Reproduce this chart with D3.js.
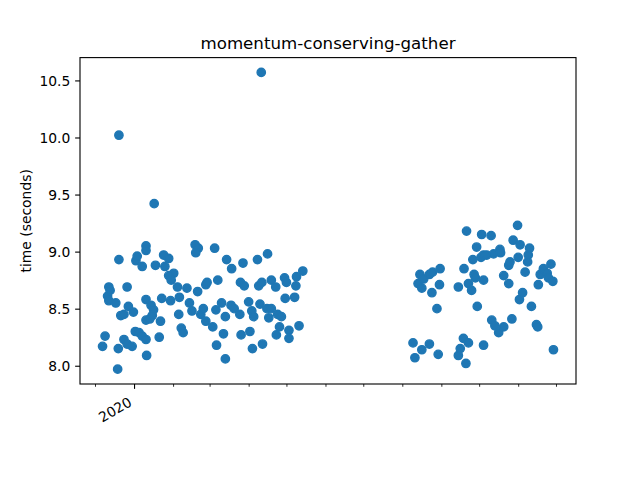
<!DOCTYPE html>
<html><head><meta charset="utf-8">
<script src="https://cdn.jsdelivr.net/npm/d3@7"></script>
<style>body{margin:0;background:#fff}svg{display:block}text{font-family:"DejaVu Sans",sans-serif;fill:#000}</style>
</head><body>
<script>
const title = "momentum-conserving-gather";
const yLabel = "time (seconds)";
const dates = [
"2019-12-07","2019-12-09","2019-12-11","2019-12-12","2019-12-12","2019-12-13","2019-12-17T12:00Z","2019-12-19","2019-12-19T12:00Z","2019-12-20",
"2019-12-20","2019-12-21T12:00Z","2019-12-24","2019-12-24","2019-12-26T12:00Z","2019-12-26T12:00Z","2019-12-27T12:00Z","2019-12-30T12:00Z","2019-12-31T12:00Z","2020-01-02",
"2020-01-02T12:00Z","2020-01-03T12:00Z","2020-01-05","2020-01-07T12:00Z","2020-01-07T12:00Z","2020-01-10T12:00Z","2020-01-10T12:00Z","2020-01-10T12:00Z","2020-01-10T12:00Z","2020-01-10T12:00Z",
"2020-01-11","2020-01-13T12:00Z","2020-01-14T12:00Z","2020-01-16T12:00Z","2020-01-15T12:00Z","2020-01-17","2020-01-18","2020-01-21","2020-01-22","2020-01-23",
"2020-01-24T12:00Z","2020-01-28T12:00Z","2020-01-25T12:00Z","2020-01-30","2020-02-01T12:00Z","2020-01-28T12:00Z","2020-01-30T12:00Z","2020-02-04T12:00Z","2020-02-05T12:00Z","2020-02-06",
"2020-02-07T12:00Z","2020-02-09","2020-02-12","2020-02-14","2020-02-16","2020-02-18T12:00Z","2020-02-21","2020-02-19","2020-02-20T12:00Z","2020-02-23",
"2020-02-25","2020-02-27","2020-02-27","2020-02-28","2020-03-03T12:00Z","2020-03-05","2020-03-06","2020-03-06T12:00Z","2020-03-07T12:00Z","2020-03-10T12:00Z",
"2020-03-12","2020-03-13T12:00Z","2020-03-13T12:00Z","2020-03-14T12:00Z","2020-03-18","2020-03-18T12:00Z","2020-03-20T12:00Z","2020-03-25","2020-03-26","2020-03-25T12:00Z",
"2020-03-27T12:00Z","2020-03-28T12:00Z","2020-04-01","2020-04-02","2020-04-03T12:00Z","2020-04-05","2020-04-04","2020-04-08","2020-04-09","2020-04-10",
"2020-04-11","2020-04-11T12:00Z","2020-04-12","2020-04-15T12:00Z","2020-04-16","2020-04-17","2020-04-19","2020-04-19","2020-04-22T12:00Z","2020-04-23",
"2020-04-24","2020-04-25T12:00Z","2020-04-27","2020-04-29T12:00Z","2020-04-30","2020-05-01","2020-05-03","2020-05-03","2020-05-07T12:00Z","2020-05-09",
"2020-05-08T12:00Z","2020-05-11","2020-05-14",
"2020-08-09T12:00Z","2020-08-11","2020-08-13T12:00Z","2020-08-15","2020-08-16T12:00Z","2020-08-16T12:00Z","2020-08-18","2020-08-22T12:00Z","2020-08-22T12:00Z","2020-08-24T12:00Z",
"2020-08-25","2020-08-28T12:00Z","2020-08-29T12:00Z","2020-08-30T12:00Z","2020-08-31","2020-09-14T12:00Z","2020-09-14T12:00Z","2020-09-16","2020-09-18T12:00Z","2020-09-19",
"2020-09-20T12:00Z","2020-09-21","2020-09-22T12:00Z","2020-09-22T12:00Z","2020-09-25","2020-09-26","2020-09-27","2020-09-28","2020-09-29","2020-09-29T12:00Z",
"2020-10-02T12:00Z","2020-10-03","2020-10-04T12:00Z","2020-10-04T12:00Z","2020-10-04T12:00Z","2020-10-07","2020-10-10T12:00Z","2020-10-11","2020-10-12T12:00Z","2020-10-13T12:00Z",
"2020-10-16T12:00Z","2020-10-17T12:00Z","2020-10-18","2020-10-20T12:00Z","2020-10-20T12:00Z","2020-10-24T12:00Z","2020-10-24T12:00Z","2020-10-25T12:00Z","2020-10-27","2020-10-28",
"2020-10-31T12:00Z","2020-11-01","2020-11-02","2020-11-02T12:00Z","2020-11-04T12:00Z","2020-11-06T12:00Z","2020-11-08T12:00Z","2020-11-09","2020-11-10","2020-11-11T12:00Z",
"2020-11-15T12:00Z","2020-11-16T12:00Z","2020-11-17","2020-11-18T12:00Z","2020-11-21","2020-11-24","2020-11-25","2020-11-27","2020-11-28T12:00Z","2020-11-29"
];
const times = [
8.17,8.26,8.61,8.57,8.69,8.66,8.55,7.97,8.15,8.93,
10.02,8.44,8.45,8.23,8.69,8.19,8.52,8.17,8.47,8.30,
8.92,8.96,8.29,8.26,8.87,9.05,9.01,8.23,8.58,8.40,
8.09,8.41,8.53,8.49,8.44,9.42,8.88,8.25,8.39,8.59,
8.97,8.94,8.87,8.57,8.81,8.79,8.75,8.69,8.45,8.60,
8.33,8.29,8.68,8.55,8.48,9.06,9.03,8.99,8.65,8.45,
8.50,8.39,8.71,8.73,8.34,9.03,8.49,8.18,8.75,8.55,
8.28,8.43,8.06,8.93,8.53,8.85,8.50,8.45,8.27,8.73,
8.90,8.70,8.56,8.30,8.48,8.43,8.15,8.93,8.70,8.54,
10.57,8.73,8.19,8.50,8.98,8.42,8.75,8.50,8.69,8.27,
8.45,8.34,8.43,8.77,8.59,8.73,8.31,8.24,8.60,8.78,
8.70,8.35,8.83,
8.20,8.07,8.72,8.80,8.68,8.14,8.76,8.80,8.19,8.64,
8.82,8.50,8.10,8.71,8.85,8.69,8.09,8.15,8.24,8.85,
8.02,9.18,8.72,8.20,8.66,8.93,8.80,8.77,9.04,8.52,
8.95,9.15,8.97,8.75,8.18,8.97,9.14,8.40,8.98,8.35,
8.29,9.02,8.99,8.79,8.34,8.88,8.72,8.91,8.41,9.10,
9.23,8.95,8.58,9.06,8.64,8.82,8.91,8.97,9.03,8.52,
8.36,8.34,8.71,8.80,8.85,8.81,8.77,8.89,8.74,8.14
];
const yTicks = [8.0, 8.5, 9.0, 9.5, 10.0, 10.5];
const xMajorTicks = ["2020-01-01"];
const xMajorLabels = ["2020"];
const xMinorTicks = ["2019-12-01","2020-02-01","2020-03-01","2020-04-01","2020-05-01","2020-06-01","2020-07-01","2020-08-01","2020-09-01","2020-10-01","2020-11-01","2020-12-01"];

const W = 640, H = 480;
const m = {left: 80, right: 576, top: 57.6, bottom: 384};
const px = 100/72;
const data = dates.map((d,i)=>({d:new Date(d), v:times[i]}));

function pad(ext){ const s = ext[1]-ext[0]; return [ext[0]-0.05*s, ext[1]+0.05*s]; }
const xe = pad(d3.extent(data, d=>+d.d));
const ye = pad(d3.extent(data, d=>d.v));
const x = d3.scaleUtc().domain([new Date(xe[0]), new Date(xe[1])]).range([m.left, m.right]);
const y = d3.scaleLinear().domain(ye).range([m.bottom, m.top]);

const svg = d3.select("body").append("svg").attr("width", W).attr("height", H);
svg.append("rect").attr("width", W).attr("height", H).attr("fill", "#fff");

const color = "#1f77b4";
svg.append("g").selectAll("circle").data(data).join("circle")
  .attr("cx", d=>x(d.d)).attr("cy", d=>y(d.v)).attr("r", 3*px)
  .attr("fill", color).attr("stroke", color).attr("stroke-width", 1*px);

// y axis
const yAxis = d3.axisLeft(y).tickValues(yTicks).tickFormat(d3.format(".1f")).tickSize(3.5*px).tickPadding(3.5*px);
const gy = svg.append("g").attr("transform", `translate(${m.left},0)`).call(yAxis);
gy.select(".domain").remove();
gy.selectAll("line").attr("stroke", "#000").attr("stroke-width", 0.8*px);
gy.selectAll("text").attr("font-size", 10*px).attr("font-family", "DejaVu Sans").attr("dy", "0.35em");

// x axis minor
const gxm = svg.append("g").attr("transform", `translate(0,${m.bottom})`)
  .call(d3.axisBottom(x).tickValues(xMinorTicks.map(s=>new Date(s))).tickSize(2*px).tickFormat(""));
gxm.select(".domain").remove();
gxm.selectAll("line").attr("stroke", "#000").attr("stroke-width", 0.6*px);

// x axis major
const gx = svg.append("g").attr("transform", `translate(0,${m.bottom})`)
  .call(d3.axisBottom(x).tickValues(xMajorTicks.map(s=>new Date(s))).tickSize(3.5*px).tickFormat((d,i)=>xMajorLabels[i]));
gx.select(".domain").remove();
gx.selectAll("line").attr("stroke", "#000").attr("stroke-width", 0.8*px);
gx.selectAll("text").attr("font-size", 10*px).attr("font-family", "DejaVu Sans")
  .attr("text-anchor", "end").attr("y", 0).attr("dy", null)
  .attr("transform", "translate(-1.7,21) rotate(-30)");

// frame
svg.append("rect").attr("x", m.left).attr("y", m.top).attr("width", m.right-m.left).attr("height", m.bottom-m.top)
  .attr("fill", "none").attr("stroke", "#000").attr("stroke-width", 0.8*px);

svg.append("text").attr("x", (m.left+m.right)/2).attr("y", 49.3).attr("text-anchor", "middle")
  .attr("font-size", 12*px).text(title);
svg.append("text").attr("transform", `translate(31,${(m.top+m.bottom)/2}) rotate(-90)`).attr("text-anchor", "middle")
  .attr("font-size", 10*px).text(yLabel);
</script>
</body></html>
